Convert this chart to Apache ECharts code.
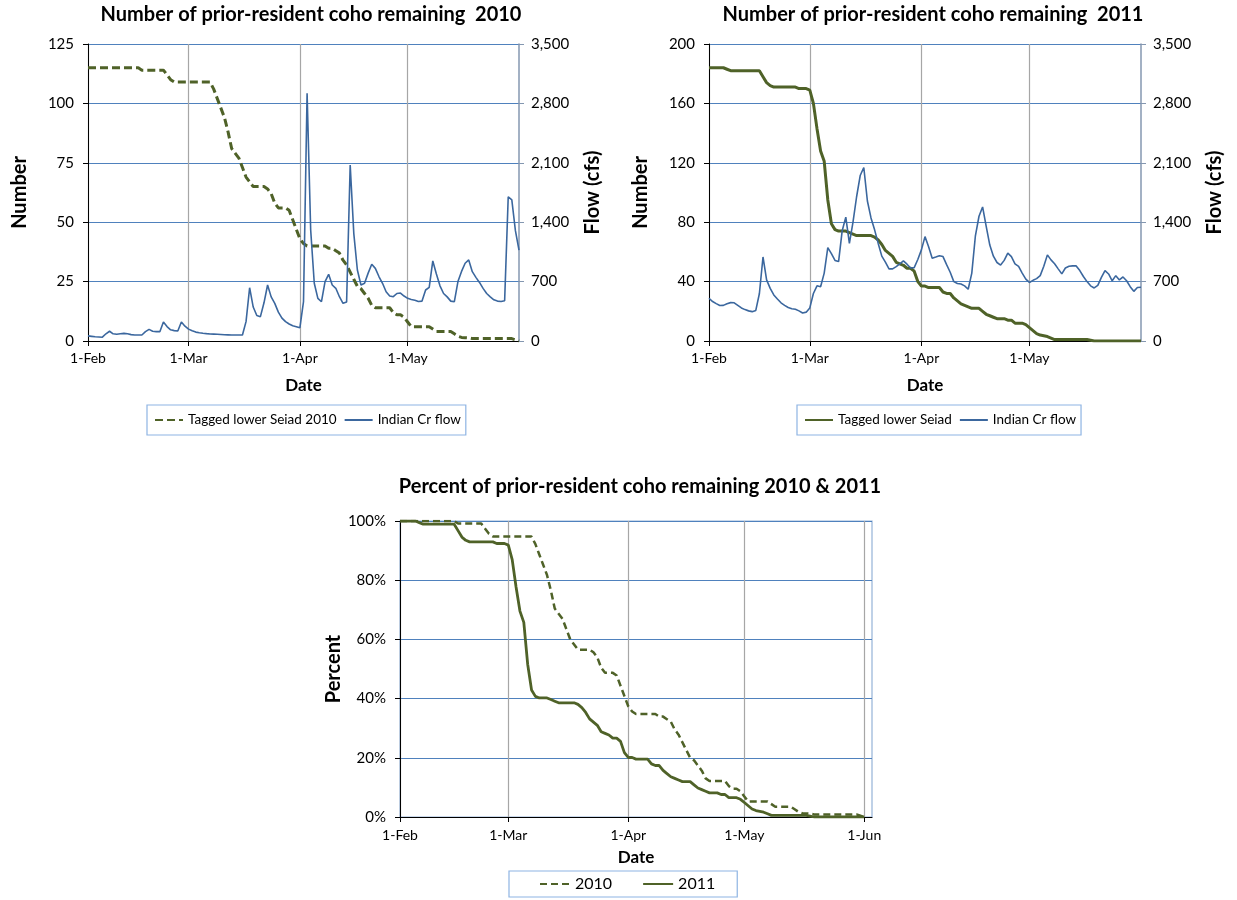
<!DOCTYPE html>
<html><head><meta charset="utf-8">
<script src="https://cdn.jsdelivr.net/npm/echarts@6/dist/echarts.min.js"></script>
<style>html,body{margin:0;padding:0;background:#fff}#c{width:1237px;height:900px}</style>
</head><body><div id="c"></div>
<script>
// Days are counted from 1-Feb (index 0 = 1-Feb)
const tickDays = [0, 28, 59, 89, 120];
const tickLabels = ['1-Feb', '1-Mar', '1-Apr', '1-May', '1-Jun'];

const tagged2010 = [
  115,115,115,115,115,115,115,115,115,115,
  115,115,115,115,115,114,114,114,114,114,
  114,114,112,110,109,109,109,109,109,109,
  109,109,109,109,109,106,102,98,94,88,
  81,79,77,73,69,67,65,65,65,65,
  64,62,58,56,56,56,55,51,47,43,
  41,40,40,40,40,40,40,39,39,38,
  37,34,32,29,26,23,22,20,18,15,
  14,14,14,14,14,12,11,11,10,8,
  6,6,6,6,6,6,5,4,4,4,
  4,4,3,2,1.5,1.4,1.3,1,1,1,
  1,1,1,1,1,1,1,1,1,0.5,
  0];

const flow2010 = [
  60,55,50,48,45,85,115,85,80,86,
  90,85,75,71,71,71,110,137,115,110,
  110,224,170,132,122,118,224,175,140,120,
  105,98,92,87,83,81,79,76,73,72,
  71,71,71,71,228,628,400,300,287,450,
  660,520,444,340,270,228,200,180,169,157,
  463,2919,1308,680,503,463,699,786,660,621,
  522,444,460,2074,1269,837,660,680,800,904,
  856,760,680,580,530,522,560,565,530,503,
  490,480,465,470,601,633,943,790,650,560,
  520,470,463,700,820,916,955,817,750,690,
  620,560,520,485,470,465,475,1700,1662,1300,
  1072];

const tagged2011 = [
  184,184,184,184,184,183,182,182,182,182,
  182,182,182,182,182,178,174,172,171,171,
  171,171,171,171,171,170,170,170,169,160,
  143,128,121,95,79,75,74,74,74,73,
  72,71,71,71,71,71,70,68,65,61,
  59,57,53,52,51,49,49,47,40,37,
  37,36,36,36,36,33,32,32,29,27,
  25,24,23,22,22,22,20,18,17,16,
  15,15,15,14,14,12,12,12,11,9,
  7,5,4,3.5,3,2,1,1,1,1,
  1,1,1,1,1,1,0.5,0,0,0,
  0,0,0,0,0,0,0,0,0,0,
  0];

const flow2011 = [
  504,465,440,418,420,440,452,450,420,390,
  370,355,346,360,560,990,720,620,543,495,
  450,420,395,380,374,355,330,340,390,560,
  650,640,800,1100,1030,950,936,1300,1460,1150,
  1400,1700,1950,2045,1650,1450,1310,1150,1000,930,
  850,850,877,910,945,905,860,865,960,1074,
  1230,1110,976,990,1005,995,900,810,700,678,
  672,650,610,800,1240,1470,1580,1350,1130,1000,
  925,895,950,1035,995,910,880,800,730,690,
  715,735,770,880,1015,956,910,850,791,860,
  880,885,885,830,760,700,650,625,655,750,
  830,790,710,770,720,755,710,640,585,630,
  633];

const names = {
  t2010: 'Tagged lower Seiad 2010',
  t2011: 'Tagged lower Seiad',
  flow: 'Indian Cr flow',
  p2010: '2010',
  p2011: '2011'
};

const FONT = 'Lato';
const GREEN = '#4f6228';
const BLUE = '#3b679e';
const HGRID = '#4f81bd';
const VGRID = '#a6a6a6';

const pairs = arr => arr.map((v, i) => [i, v]);
const pct = arr => arr.map((v, i) => [i, v / arr[0] * 100]);
const dayLabel = v => { const k = tickDays.indexOf(v); return k >= 0 ? tickLabels[k] : ''; };

function xAxis(gridIndex, max, ticks, nameGap, labelMargin) {
  return {
    type: 'value', gridIndex, min: 0, max,
    name: 'Date', nameLocation: 'middle', nameGap,
    nameTextStyle: { fontFamily: FONT, fontWeight: 'bold', fontSize: 17, color: '#000' },
    axisLine: { show: true, onZero: false, lineStyle: { color: '#000', width: 1 } },
    axisTick: { show: true, customValues: ticks, length: 5, lineStyle: { color: '#000' } },
    axisLabel: { customValues: ticks, formatter: dayLabel, margin: labelMargin,
      fontFamily: FONT, fontSize: 14, color: '#000' },
    splitLine: { show: true, lineStyle: { color: VGRID, width: 1.2 } }
  };
}

function yLeft(gridIndex, max, interval, name, fmt, nameGap) {
  return {
    type: 'value', gridIndex, min: 0, max, interval, position: 'left',
    name, nameLocation: 'middle', nameGap, nameRotate: 90,
    nameTextStyle: { fontFamily: FONT, fontWeight: 'bold', fontSize: 20, color: '#000' },
    axisLine: { show: true, lineStyle: { color: '#000', width: 1 } },
    axisTick: { show: true, length: 5, lineStyle: { color: '#000' } },
    axisLabel: { margin: 14, fontFamily: FONT, fontSize: 15, color: '#000', formatter: fmt },
    splitLine: { show: true, lineStyle: { color: HGRID, width: 1 } }
  };
}

function yRight(gridIndex) {
  return {
    type: 'value', gridIndex, min: 0, max: 3500, interval: 700, position: 'right',
    name: 'Flow (cfs)', nameLocation: 'middle', nameGap: 64, nameRotate: 90,
    nameTextStyle: { fontFamily: FONT, fontWeight: 'bold', fontSize: 20, color: '#000' },
    axisLine: { show: true, lineStyle: { color: '#8497b0', width: 1.5 } },
    axisTick: { show: true, length: 5, lineStyle: { color: '#8497b0' } },
    axisLabel: { margin: 12, fontFamily: FONT, fontSize: 15, color: '#000',
      formatter: v => v.toLocaleString('en-US') },
    splitLine: { show: false }
  };
}

function legend(left, top, data, fontSize, gap, padding, iconW) {
  return {
    left, top, data, orient: 'horizontal',
    padding, itemGap: gap, itemWidth: iconW, itemHeight: 14,
    borderColor: '#8eb4e3', borderWidth: 1.2, borderRadius: 0,
    itemStyle: { color: 'rgba(0,0,0,0)', borderWidth: 0, opacity: 0 },
    textStyle: { fontFamily: FONT, fontSize, color: '#000' },
    selectedMode: false
  };
}

const titleStyle = { fontFamily: FONT, fontWeight: 'bold', fontSize: 20, color: '#000' };

const option = {
  backgroundColor: '#fff',
  animation: false,
  title: [
    { text: 'Number of prior-resident coho remaining  2010', left: 311, top: 5, textAlign: 'center', padding: 0, textStyle: titleStyle },
    { text: 'Number of prior-resident coho remaining  2011', left: 933, top: 5, textAlign: 'center', padding: 0, textStyle: titleStyle },
    { text: 'Percent of prior-resident coho remaining 2010 & 2011', left: 640, top: 477, textAlign: 'center', padding: 0, textStyle: titleStyle }
  ],
  legend: [
    legend(147, 405, [names.t2010, names.flow], 13.5, 7, [8, 5, 8, 7], 28),
    legend(797, 405, [names.t2011, names.flow], 13.5, 7, [8, 5, 8, 7], 28),
    legend(509, 871, [names.p2010, names.p2011], 16, 30, [5, 22, 5, 30], 30)
  ],
  grid: [
    { left: 88, top: 44, width: 431, height: 297 },
    { left: 709, top: 44, width: 432, height: 297 },
    { left: 400, top: 521, width: 472, height: 296, show: true, borderColor: '#95b3d7', borderWidth: 1.2 }
  ],
  xAxis: [
    xAxis(0, 120, tickDays.slice(0, 4), 36, 10),
    xAxis(1, 120, tickDays.slice(0, 4), 36, 10),
    xAxis(2, 122, tickDays, 32, 11)
  ],
  yAxis: [
    yLeft(0, 125, 25, 'Number', undefined, 58),
    yRight(0),
    yLeft(1, 200, 40, 'Number', undefined, 58),
    yRight(1),
    yLeft(2, 100, 20, 'Percent', v => v + '%', 56)
  ],
  series: [
    { name: names.t2010, type: 'line', xAxisIndex: 0, yAxisIndex: 0, symbol: 'none',
      data: pairs(tagged2010), lineStyle: { color: GREEN, width: 3, type: [8, 4] }, itemStyle: { color: GREEN } },
    { name: names.flow, type: 'line', xAxisIndex: 0, yAxisIndex: 1, symbol: 'none',
      data: pairs(flow2010), lineStyle: { color: BLUE, width: 1.6 }, itemStyle: { color: BLUE } },
    { name: names.t2011, type: 'line', xAxisIndex: 1, yAxisIndex: 2, symbol: 'none',
      data: pairs(tagged2011), lineStyle: { color: GREEN, width: 3 }, itemStyle: { color: GREEN } },
    { name: names.flow, type: 'line', xAxisIndex: 1, yAxisIndex: 3, symbol: 'none',
      data: pairs(flow2011), lineStyle: { color: BLUE, width: 1.6 }, itemStyle: { color: BLUE } },
    { name: names.p2010, type: 'line', xAxisIndex: 2, yAxisIndex: 4, symbol: 'none',
      data: pct(tagged2010), lineStyle: { color: GREEN, width: 2.5, type: [7, 4] }, itemStyle: { color: GREEN } },
    { name: names.p2011, type: 'line', xAxisIndex: 2, yAxisIndex: 4, symbol: 'none',
      data: pct(tagged2011), lineStyle: { color: GREEN, width: 2.8 }, itemStyle: { color: GREEN } }
  ]
};

const chart = echarts.init(document.getElementById('c'), null, { renderer: 'canvas' });
chart.setOption(option);
</script>
</body></html>
